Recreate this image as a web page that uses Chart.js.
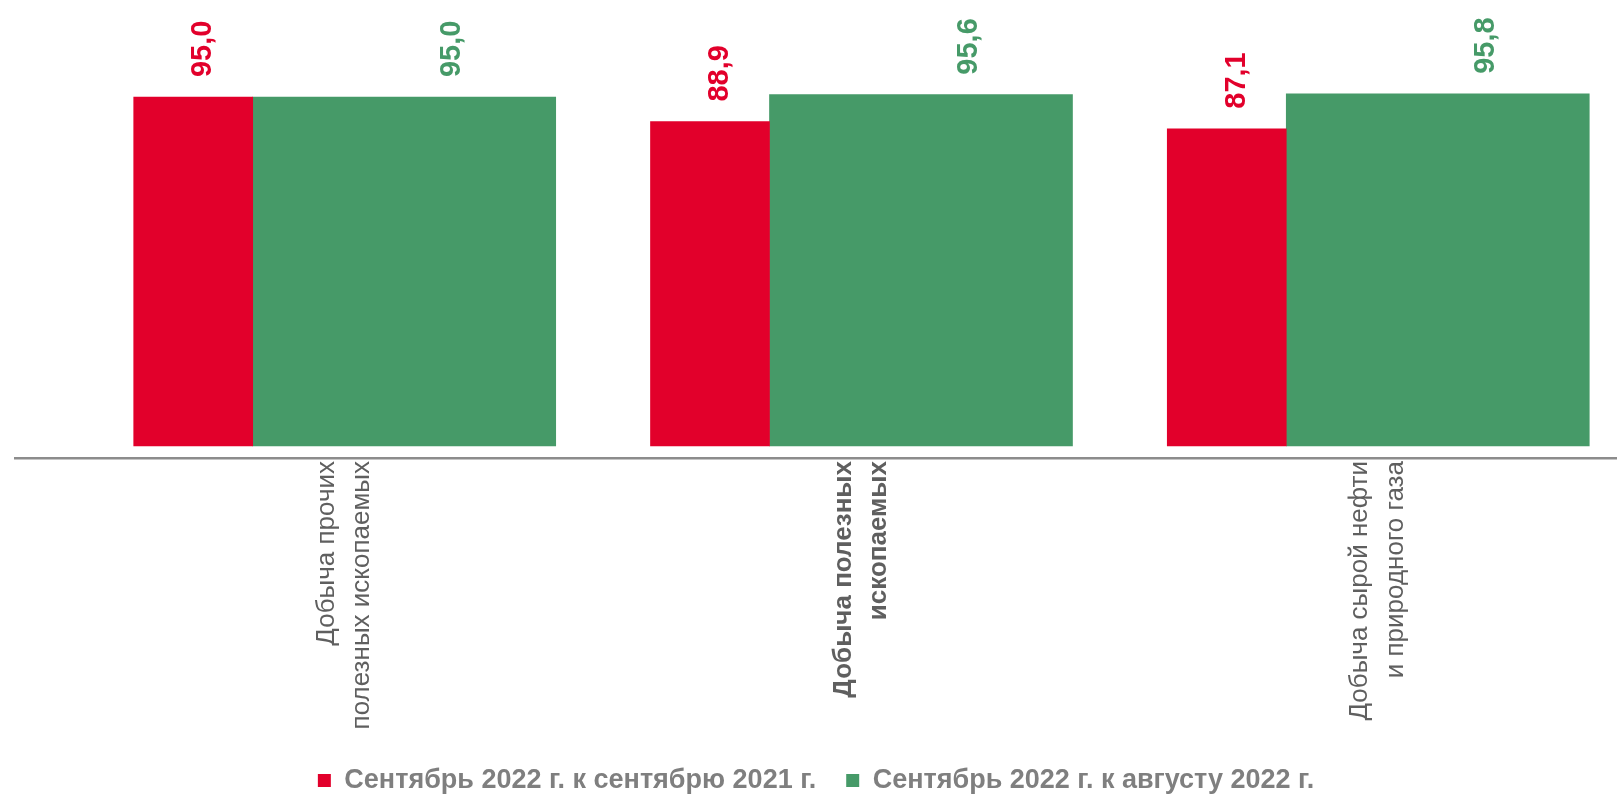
<!DOCTYPE html>
<html lang="ru">
<head>
<meta charset="utf-8">
<title>Добыча полезных ископаемых</title>
<script src="https://cdn.jsdelivr.net/npm/chart.js@4.4.0/dist/chart.umd.min.js"></script>
<style>
    html, body { margin: 0; padding: 0; background: #fff; }
    #wrap { width: 1617px; height: 796px; position: relative; }
</style>
</head>
<body>
<div id="wrap"><canvas id="myChart"></canvas></div>
<script>
const categories = [
    ["Добыча прочих", "полезных ископаемых"],
    ["Добыча полезных", "ископаемых"],
    ["Добыча сырой нефти", "и природного газа"],
];
const seriesNames = ["Сентябрь 2022 г. к сентябрю 2021 г.", "Сентябрь 2022 г. к августу 2022 г."];
const yearOnYear = [95.0, 88.9, 87.1];
const monthOnMonth = [95.0, 95.6, 95.8];

const FONT = "'Liberation Sans', Arial, sans-serif";
const RED = "#e2002b";
const GREEN = "#469a68";
const highlightIndex = 1; // итоговая категория выделена жирным

function toPoints(values) {
    return values.map((v, i) => ({ x: i, y: v }));
}

// подписи значений над столбиками, повернуты на 90 градусов
const valueLabels = {
    id: "valueLabels",
    afterDatasetsDraw(chart) {
        const ctx = chart.ctx;
        chart.data.datasets.forEach((ds, di) => {
            const meta = chart.getDatasetMeta(di);
            meta.data.forEach((bar, i) => {
                const text = ds.data[i].y.toFixed(1).replace(".", ",");
                ctx.save();
                ctx.translate(bar.x + ds.labelShift, bar.y - 20);
                ctx.rotate(-Math.PI / 2);
                ctx.font = "bold 29px " + FONT;
                ctx.fillStyle = ds.backgroundColor;
                ctx.textAlign = "left";
                ctx.textBaseline = "middle";
                ctx.fillText(text, 0, 0);
                ctx.restore();
            });
        });
    },
};

document.addEventListener("DOMContentLoaded", function () {
    const ctx = document.getElementById("myChart").getContext("2d");
    const myChart = new Chart(ctx, {
        type: "bar",
        data: {
            datasets: [
                {
                    label: seriesNames[0],
                    data: toPoints(yearOnYear),
                    backgroundColor: RED,
                    barThickness: 119,
                    base: 8,
                    labelShift: 10,
                },
                {
                    label: seriesNames[1],
                    data: toPoints(monthOnMonth),
                    backgroundColor: GREEN,
                    barThickness: 303,
                    base: 8,
                    labelShift: 48,
                },
            ],
        },
        options: {
            responsive: true,
            maintainAspectRatio: false,
            animation: false,
            layout: { padding: { left: 15, right: 0, top: 0, bottom: -8 } },
            plugins: {
                tooltip: { enabled: false },
                legend: {
                    position: "bottom",
                    labels: {
                        boxWidth: 13,
                        boxHeight: 13,
                        padding: 30,
                        color: "#7f7f7f",
                        font: { family: FONT, size: 27, weight: "bold" },
                    },
                },
            },
            scales: {
                x: {
                    type: "linear",
                    min: -0.46,
                    max: 2.64,
                    offset: false,
                    grid: { display: false, drawTicks: false },
                    border: { display: true, color: "#8c8c8c", width: 2.5 },
                    afterFit(scale) {
                        scale.height = 279;
                    },
                    ticks: {
                        stepSize: 1,
                        includeBounds: false,
                        autoSkip: false,
                        minRotation: 90,
                        maxRotation: 90,
                        padding: 3,
                        labelOffset: 74,
                        color: "#5f5f5f",
                        font: (c) => ({
                            family: FONT,
                            size: 26,
                            lineHeight: 1.35,
                            weight: c.index === highlightIndex ? "bold" : "normal",
                        }),
                        callback: (v) => categories[v],
                    },
                },
                y: { display: false, min: 5, max: 119.2 },
            },
        },
        plugins: [valueLabels],
    });
});
</script>
</body>
</html>
